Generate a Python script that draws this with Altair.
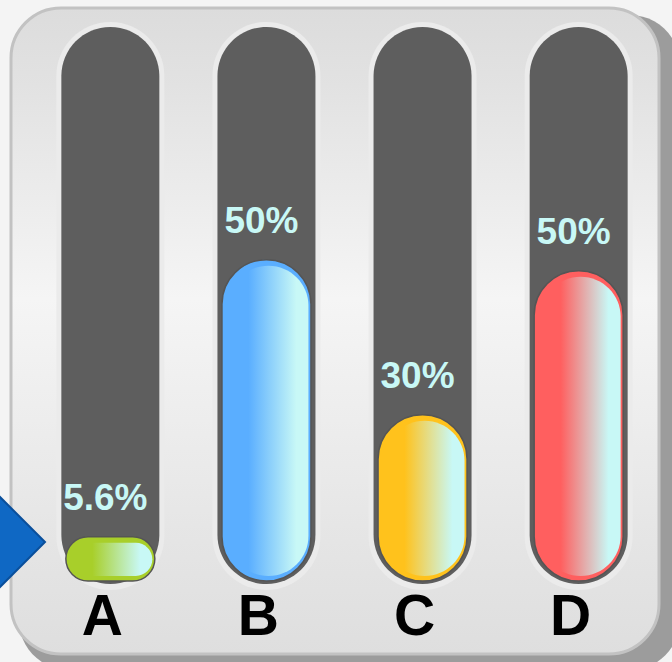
import altair as alt
import pandas as pd

# ---- data ----
categories = ["A", "B", "C", "D"]
labels = ["5.6%", "50%", "30%", "50%"]
levels = [8.0, 58.0, 30.0, 56.0]      # visible fill level of each tube (tube = 100)
capacity = [100, 100, 100, 100]

# ---- styles ----
BASE = ["#a8cf2a", "#5aaeff", "#ffc21c", "#ff5f5f"]
CYAN = "#c8f8f6"
FONT = "Liberation Sans"

df = pd.DataFrame({"cat": categories, "label": labels, "level": levels, "full": capacity})

xs = alt.Scale(domain=categories, range=[32.3, 656.7], paddingInner=0, paddingOuter=0)
ys = alt.Scale(domain=[0, 100], range=[581, 27])
X = alt.X("cat:N", scale=xs, axis=None)
base = alt.Chart(df)
one = alt.Data(values=[{"k": 1}])

# frame with shadow
shadow = alt.Chart(one).mark_rect(fill="#9c9c9c", cornerRadius=50).encode(
    x=alt.value(19), x2=alt.value(680), y=alt.value(15), y2=alt.value(670))
frame_grad = alt.Gradient(
    gradient="linear", x1=0, x2=0, y1=0, y2=1,
    stops=[alt.GradientStop(color="#dcdcdc", offset=0),
           alt.GradientStop(color="#e2e2e2", offset=0.12),
           alt.GradientStop(color="#f5f5f5", offset=0.45),
           alt.GradientStop(color="#e6e6e6", offset=0.8),
           alt.GradientStop(color="#dedede", offset=1)])
frame = alt.Chart(one).mark_rect(fill=frame_grad, stroke="#c2c2c2", strokeWidth=3,
                                 cornerRadius=50).encode(
    x=alt.value(11), x2=alt.value(659), y=alt.value(8), y2=alt.value(654))

# blue pointer
tri = alt.Chart(one).mark_point(shape="M -1 -1 L 0 0 L -1 1 Z", size=14400, filled=True,
                                fill="#0f68c4", stroke="#0a4f9b", strokeWidth=2,
                                opacity=1).encode(x=alt.value(45), y=alt.value(542))

# tubes
Yfull = alt.Y("full:Q", scale=ys, axis=None)
tube_light = base.mark_bar(width=108, cornerRadius=54, color="#ebebeb",
                           yOffset=-5, y2Offset=9).encode(x=X, y=Yfull, y2=alt.datum(0))
tube_dark = base.mark_bar(width=98, cornerRadius=49, color="#5e5e5e",
                          y2Offset=3).encode(x=X, y=Yfull, y2=alt.datum(0))

Ylev = alt.Y("level:Q", scale=ys, axis=None)
outer = base.mark_bar(width=89, cornerRadius=44.5, stroke="#555555", strokeWidth=1.5).encode(
    x=X, y=Ylev, y2=alt.datum(0),
    color=alt.Color("cat:N", scale=alt.Scale(domain=categories, range=BASE), legend=None))

inner = []
for c, col in zip(categories, BASE):
    g = alt.Gradient(gradient="linear", x1=0, x2=1, y1=0, y2=0,
                     stops=[alt.GradientStop(color=col, offset=0),
                            alt.GradientStop(color=col, offset=0.25),
                            alt.GradientStop(color=CYAN, offset=0.85),
                            alt.GradientStop(color=CYAN, offset=1)])
    inner.append(base.transform_filter(alt.datum.cat == c).mark_bar(
        width=80, xOffset=2, yOffset=6, y2Offset=-5, cornerRadius=40, fill=g
    ).encode(x=X, y=Ylev, y2=alt.datum(0)))

pct = base.mark_text(font=FONT, fontWeight="bold", fontSize=37, color=CYAN, dx=-5, dy=-27,
                     baseline="alphabetic", align="center").encode(
    x=X, y=Ylev, text="label:N")

letters = base.mark_text(font=FONT, fontWeight="bold", fontSize=57, color="#000000",
                         dx=-8, baseline="alphabetic", align="center").encode(
    x=X, y=alt.value(635), text="cat:N")

chart = alt.layer(shadow, frame, tri, tube_light, tube_dark, outer, *inner, pct,
                  letters).properties(
    width=672, height=662, padding=0, autosize="none", background="#f4f4f4"
).configure_view(stroke=None)

chart.save("out.html", embed_options={"renderer": "svg", "actions": False})
